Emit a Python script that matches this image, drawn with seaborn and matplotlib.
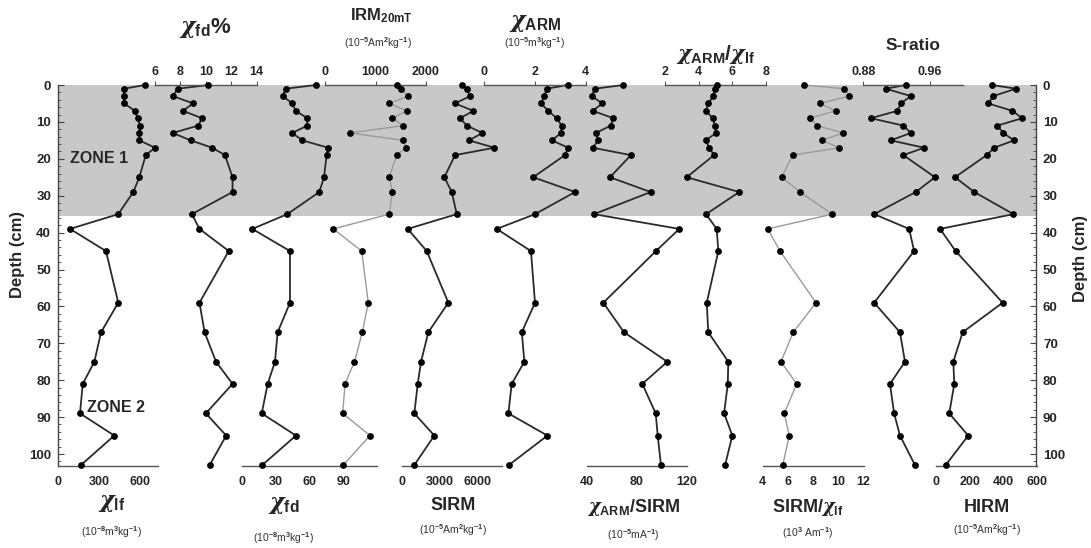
import matplotlib
matplotlib.use("Agg")
import matplotlib.pyplot as plt
from matplotlib.ticker import MultipleLocator
import seaborn as sns

# sample depths (cm) shared by all profiles
depth = [0, 1, 3, 5, 7, 9, 11, 13, 15, 17, 19, 25, 29, 35, 39, 45, 59, 67, 75, 81, 89, 95, 103]

chi_lf = [636, 483, 483, 483, 563, 583, 600, 595, 595, 710, 642, 595, 551, 441, 88, 351, 441, 315, 266, 181, 161, 412, 168]
chi_fd_pct = [10.2, 7.8, 7.4, 9.0, 8.2, 9.7, 9.4, 7.4, 8.8, 10.5, 11.5, 12.1, 12.1, 8.9, 9.5, 11.8, 9.5, 9.9, 10.8, 12.1, 10.0, 11.6, 10.3]
chi_fd = [65.6, 38.6, 36.0, 44.5, 47.5, 57.9, 57.9, 44.5, 53.4, 76.6, 75.1, 72.8, 68.6, 40.1, 8.9, 42.5, 42.5, 31.5, 29.1, 22.6, 17.3, 47.8, 17.8]
irm20 = [1432, 1499, 1650, 1273, 1618, 1333, 1550, 495, 1550, 1604, 1420, 1273, 1333, 1273, 164, 727, 857, 739, 584, 396, 350, 891, 362]
sirm = [4726, 5123, 5386, 4193, 5648, 4590, 5123, 6364, 5306, 7319, 4193, 3341, 3930, 4328, 430, 1941, 3660, 2068, 1488, 1225, 955, 2546, 955]
chi_arm = [3.29, 2.46, 2.37, 2.24, 2.52, 2.86, 3.05, 3.03, 2.66, 3.31, 3.18, 1.93, 3.58, 2.0, 0.49, 1.84, 2.0, 1.48, 1.58, 1.08, 0.95, 2.49, 0.97]
arm_sirm = [69.3, 46.6, 44.0, 52.5, 44.8, 61.3, 59.2, 47.4, 49.3, 44.8, 75.4, 58.6, 91.2, 45.8, 114.1, 95.4, 53.3, 69.8, 104.5, 84.5, 95.2, 96.8, 99.4]
arm_lf = [5.07, 4.97, 4.87, 4.57, 4.44, 4.83, 4.97, 5.03, 4.42, 4.63, 4.91, 3.29, 6.41, 4.44, 5.07, 5.17, 4.48, 4.57, 5.76, 5.73, 5.51, 6.0, 5.57]
sirm_lf = [7.28, 10.48, 10.87, 8.55, 9.79, 7.75, 8.29, 10.4, 8.68, 10.08, 6.38, 5.51, 6.96, 9.52, 4.4, 5.37, 8.23, 6.43, 5.45, 6.7, 5.71, 6.11, 5.59]
s_ratio = [0.931, 0.907, 0.937, 0.925, 0.921, 0.889, 0.928, 0.937, 0.913, 0.953, 0.928, 0.966, 0.943, 0.893, 0.935, 0.941, 0.893, 0.924, 0.930, 0.912, 0.917, 0.924, 0.942]
hirm = [332, 477, 341, 312, 455, 514, 365, 401, 465, 347, 302, 113, 228, 461, 24, 117, 397, 159, 103, 109, 79, 192, 58]

zone1_bottom = 35.5
depth_max = 103.25

sns.set_style("white")
plt.rcParams["font.family"] = ["Liberation Sans", "DejaVu Sans"]
plt.rcParams["font.weight"] = "bold"
plt.rcParams["mathtext.fontset"] = "custom"
plt.rcParams["mathtext.rm"] = "Liberation Sans"
plt.rcParams["mathtext.bf"] = "Liberation Sans:bold"
plt.rcParams["mathtext.it"] = "DejaVu Serif:italic:bold"

W, H = 1091, 548
TOP, BOT = 85, 466
fig = plt.figure(figsize=(W / 100, H / 100), dpi=100)


def rect(x0, x1):
    return [x0 / W, 1 - BOT / H, (x1 - x0) / W, (BOT - TOP) / H]


# base axes: depth scale, zone shading
base = fig.add_axes(rect(58, 1036))
base.set_ylim(depth_max, 0)
base.set_xlim(0, 1)
base.axhspan(0, zone1_bottom, color="#c8c8c8", lw=0, zorder=0)
for s in ["top", "bottom"]:
    base.spines[s].set_visible(False)
for s in ["left", "right"]:
    base.spines[s].set_color("#444")
    base.spines[s].set_linewidth(1.0)
base.set_xticks([])
base.yaxis.set_major_locator(MultipleLocator(10))
base.yaxis.set_minor_locator(MultipleLocator(2))
base.set_yticks(range(0, 101, 10))
base.tick_params(axis="y", which="both", direction="in", left=True, right=True,
                 labelleft=True, labelright=True, labelsize=9.5, pad=5, color="#444")
base.tick_params(axis="y", which="major", length=4)
base.tick_params(axis="y", which="minor", length=2)
base.text(0.012, 20, "ZONE 1", fontsize=11.5, va="center", ha="left",
          transform=base.get_yaxis_transform())
base.text(0.03, 87.5, "ZONE 2", fontsize=11.5, va="center", ha="left",
          transform=base.get_yaxis_transform())

fig.text(18 / W, 1 - 255 / H, "Depth (cm)", rotation=90, fontsize=12, ha="center", va="center")
fig.text(1081 / W, 1 - 258 / H, "Depth (cm)", rotation=90, fontsize=12, ha="center", va="center")

dark, light = "#2a2a2a", "#9a9a9a"

# (values, px left, px right, low, high, side, ticks, tick labels, line colour)
panels = [
    (chi_lf, 58, 158.3, 0, 734, "bottom", [0, 300, 600], None, dark),
    (chi_fd_pct, 155, 256.7, 6, 14, "top", [6, 8, 10, 12, 14], None, dark),
    (chi_fd, 242.3, 377, 0, 120, "bottom", [0, 30, 60, 90], None, dark),
    (irm20, 325, 426, 0, 2000, "top", [0, 1000, 2000], None, light),
    (sirm, 402.3, 501.7, 0, 7900, "bottom", [0, 3000, 6000], None, dark),
    (chi_arm, 484.3, 585.7, 0, 4, "top", [0, 2, 4], None, dark),
    (arm_sirm, 586.7, 686.7, 40, 120, "bottom", [40, 80, 120], None, dark),
    (arm_lf, 665, 766, 2, 8, "top", [2, 4, 6, 8], None, dark),
    (sirm_lf, 762.7, 863.5, 4, 12, "bottom", [4, 6, 8, 10, 12], None, light),
    (s_ratio, 863.3, 963.3, 0.88, 1.0, "top", [0.88, 0.96], ["0.88", "0.96"], dark),
    (hirm, 936, 1036.7, 0, 600, "bottom", [0, 200, 400, 600], None, dark),
]

for vals, x0, x1, lo, hi, side, ticks, labels, col in panels:
    ax = fig.add_axes(rect(x0, x1))
    ax.patch.set_alpha(0)
    ax.set_xlim(lo, hi)
    ax.set_ylim(depth_max, 0)
    sns.lineplot(x=vals, y=depth, ax=ax, sort=False, estimator=None, color=col,
                 lw=1.3 if col == dark else 1.0, clip_on=False)
    sns.scatterplot(x=vals, y=depth, ax=ax, color="black", s=24, linewidth=0,
                    clip_on=False, zorder=5)
    for s in ["left", "right", "top", "bottom"]:
        ax.spines[s].set_visible(s == side)
    ax.spines[side].set_color("#555")
    ax.spines[side].set_linewidth(1.0)
    ax.set_yticks([])
    ax.set_xticks(ticks)
    if labels:
        ax.set_xticklabels(labels)
    if side == "top":
        ax.xaxis.tick_top()
        ax.tick_params(axis="x", direction="out", length=3, pad=2, labelsize=9, color="#555")
    else:
        ax.tick_params(axis="x", direction="in", length=3, pad=7, labelsize=9, color="#555")
    ax.set_xlabel("")
    ax.set_ylabel("")

# titles and units
def title(x, y, s, size=12):
    fig.text(x / W, 1 - y / H, s, fontsize=size, ha="center", va="center")


def units(x, y, s):
    fig.text(x / W, 1 - y / H, s, fontsize=7.5, fontweight="normal", color="#333",
             ha="center", va="center")


title(112, 503, r"$\chi_{\mathbf{lf}}$", 16)
units(112, 532, r"(10$^{-8}$m$^{3}$kg$^{-1}$)")
title(284, 505, r"$\chi_{\mathbf{fd}}$", 16)
units(284, 538, r"(10$^{-8}$m$^{3}$kg$^{-1}$)")
title(453, 506, "SIRM", 13)
units(453, 530, r"(10$^{-5}$Am$^{2}$kg$^{-1}$)")
title(633, 508, r"$\chi_{\mathbf{ARM}}$/SIRM", 13)
units(633, 535, r"(10$^{-5}$mA$^{-1}$)")
title(808, 507, r"SIRM/$\chi_{\mathbf{lf}}$", 13)
units(808, 533, r"(10$^{3}$ Am$^{-1}$)")
title(987, 507, "HIRM", 13)
units(987, 530, r"(10$^{-5}$Am$^{2}$kg$^{-1}$)")

title(205, 28, r"$\chi_{\mathbf{fd}}$%", 16)
title(381, 16, r"IRM$_{\mathbf{20mT}}$", 12)
units(378, 43, r"(10$^{-5}$Am$^{2}$kg$^{-1}$)")
title(535, 24, r"$\chi_{\mathbf{ARM}}$", 16)
units(535, 43, r"(10$^{-5}$m$^{3}$kg$^{-1}$)")
title(716, 55, r"$\chi_{\mathbf{ARM}}$/$\chi_{\mathbf{lf}}$", 15)
title(913, 45, "S-ratio", 12.5)

fig.savefig("out.png", dpi=100)
